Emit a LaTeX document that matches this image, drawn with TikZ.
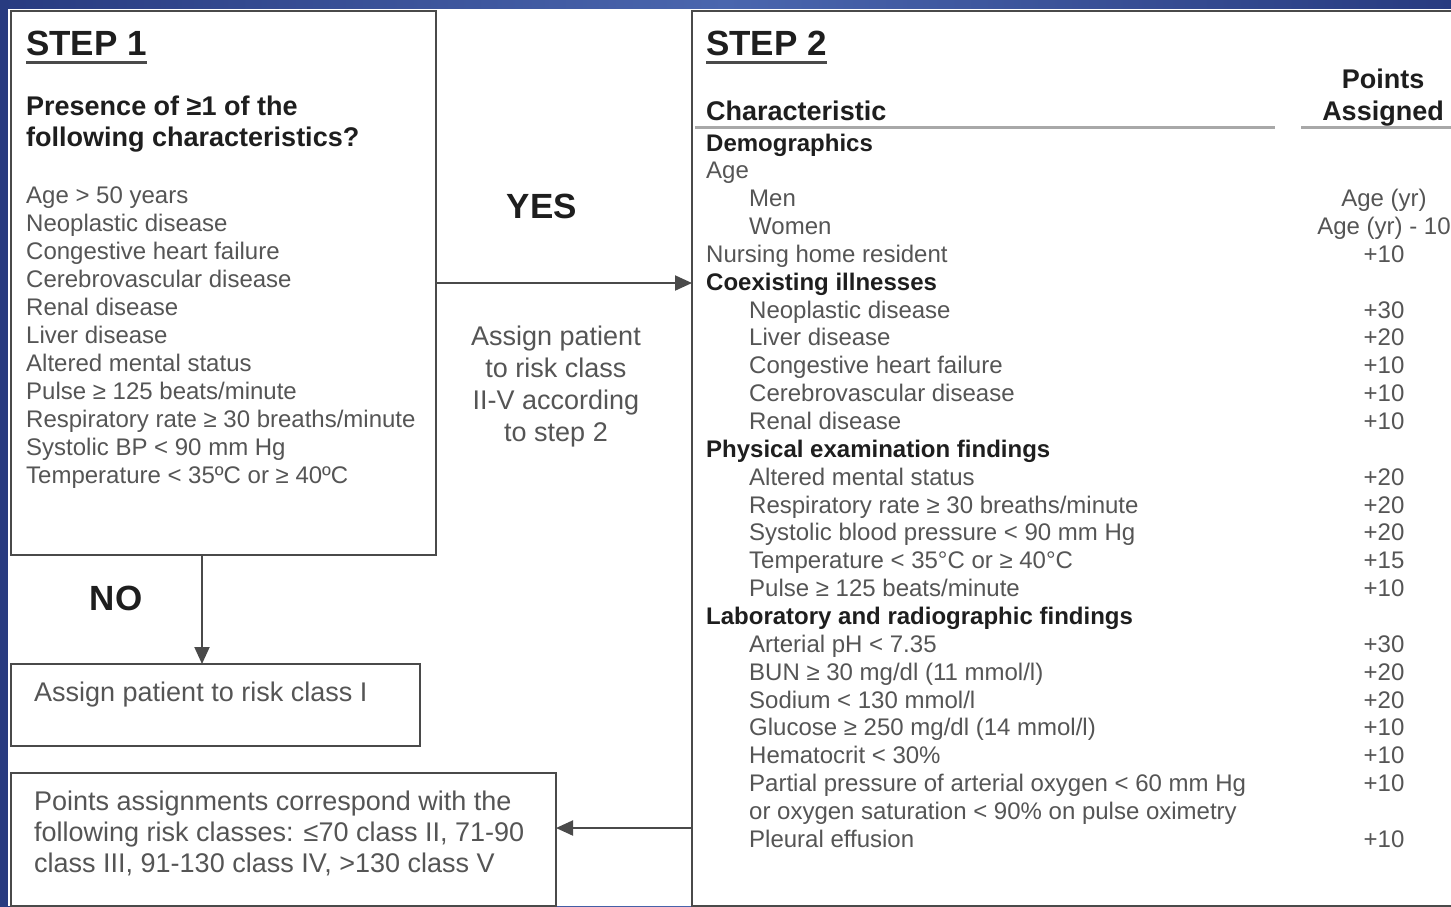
\documentclass[tikz,border=0pt]{standalone}
\usepackage{fontspec}
\setmainfont{Liberation Sans}
\usetikzlibrary{arrows.meta}
\definecolor{bgA}{HTML}{283B80}
\definecolor{bgB}{HTML}{4A66AE}
\definecolor{boxgray}{HTML}{4A4A4A}
\definecolor{txtgray}{HTML}{555555}
\definecolor{txtdark}{HTML}{1E1E1E}
\definecolor{rulegray}{HTML}{A8A8A8}
\newcommand{\trow}[4]{\node[#2] (r#1) at (#3,{151+27.85*#1}) {#4};}
\newcommand{\tpts}[2]{\node[ptxt] (p#1) at (1384,{151+27.85*#1}) {#2};}
\begin{document}
\begin{tikzpicture}[x=1pt,y=-1pt,
  box/.style={draw=boxgray, line width=2pt, fill=white, inner sep=0, outer sep=0, anchor=north west},
  txt/.style={anchor=base west, inner sep=0, text=txtgray, font=\fontsize{24}{28}\selectfont},
  btxt/.style={anchor=base west, inner sep=0, text=txtdark, font=\bfseries\fontsize{24}{28}\selectfont},
  ptxt/.style={anchor=base, inner sep=0, text=txtgray, font=\fontsize{24}{28}\selectfont},
  head/.style={anchor=base west, inner sep=0, text=txtdark, font=\bfseries\fontsize{27}{31}\selectfont},
  bighead/.style={anchor=base west, inner sep=0, text=txtdark, font=\bfseries\fontsize{35}{40}\selectfont},
  midtxt/.style={anchor=base, inner sep=0, text=txtgray, font=\fontsize{27}{32}\selectfont},
  ltxt/.style={anchor=base west, inner sep=0, text=txtgray, font=\fontsize{27}{32}\selectfont},
  arr/.style={draw=boxgray, line width=2pt, -{Triangle[length=17pt,width=15pt]}},
  uline/.style={draw=boxgray, line width=3pt},
  trule/.style={draw=rulegray, line width=3pt}]
\useasboundingbox (0,0) rectangle (1451,906);
\shade[left color=bgA, right color=bgA, middle color=bgB] (0,0) rectangle (1451,906);
\fill[white] (8,9) rectangle (1451,906);

% boxes
\node[box, minimum width=425, minimum height=544] (s1) at (11,11) {};
\node[box, minimum width=780, minimum height=895] (s2) at (692,11) {};
\node[box, minimum width=409, minimum height=82] (b1) at (11,664) {};
\node[box, minimum width=545, minimum height=133] (b2) at (11,773) {};

% step 1
\node[bighead] (t1) at (26,55) {STEP 1};
\draw[uline] ([yshift=-7pt]t1.base west) -- ([yshift=-7pt]t1.base east);
\node[head] (q1) at (26,115) {Presence of ≥1 of the};
\node[head] (q2) at (26,146) {following characteristics?};
\foreach \t [count=\i] in {Age > 50 years, Neoplastic disease, Congestive heart failure,
  Cerebrovascular disease, Renal disease, Liver disease, Altered mental status,
  Pulse ≥ 125 beats/minute, Respiratory rate ≥ 30 breaths/minute, Systolic BP < 90 mm Hg,
  Temperature < 35ºC or ≥ 40ºC}
  \node[txt] (c\i) at (26,{203+28*(\i-1)}) {\t};

% middle
\node[bighead, anchor=base] (yes) at (542,218) {YES};
\node[midtxt] (m1) at (556,345) {Assign patient};
\node[midtxt] (m2) at (556,377) {to risk class};
\node[midtxt] (m3) at (556,409) {II-V according};
\node[midtxt] (m4) at (556,441) {to step 2};
\node[bighead, anchor=base] (no) at (116,610) {NO};

% lower boxes text
\node[ltxt] (b1t) at (34,701) {Assign patient to risk class I};
\node[ltxt] (b2a) at (34,810) {Points assignments correspond with the};
\node[ltxt] (b2b) at (34,841) {following risk classes: ≤70 class II, 71-90};
\node[ltxt] (b2c) at (34,872) {class III, 91-130 class IV, >130 class V};

% step 2
\node[bighead] (t2) at (706,55) {STEP 2};
\draw[uline] ([yshift=-7pt]t2.base west) -- ([yshift=-7pt]t2.base east);
\node[head, anchor=base] (pa) at (1383,88) {Points};
\node[head, anchor=base] (pb) at (1383,120) {Assigned};
\node[head] (ch) at (706,120) {Characteristic};
\coordinate (ruleA) at (695,127);
\coordinate (ruleB) at (1275,127);
\coordinate (ruleC) at (1301,127);
\coordinate (ruleD) at (1451,127);
\draw[trule] (ruleA) -- (ruleB);
\draw[trule] (ruleC) -- (ruleD);

\trow{0}{btxt}{706}{Demographics}
\trow{1}{txt}{706}{Age}
\trow{2}{txt}{749}{Men}
\trow{3}{txt}{749}{Women}
\trow{4}{txt}{706}{Nursing home resident}
\trow{5}{btxt}{706}{Coexisting illnesses}
\trow{6}{txt}{749}{Neoplastic disease}
\trow{7}{txt}{749}{Liver disease}
\trow{8}{txt}{749}{Congestive heart failure}
\trow{9}{txt}{749}{Cerebrovascular disease}
\trow{10}{txt}{749}{Renal disease}
\trow{11}{btxt}{706}{Physical examination findings}
\trow{12}{txt}{749}{Altered mental status}
\trow{13}{txt}{749}{Respiratory rate ≥ 30 breaths/minute}
\trow{14}{txt}{749}{Systolic blood pressure < 90 mm Hg}
\trow{15}{txt}{749}{Temperature < 35°C or ≥ 40°C}
\trow{16}{txt}{749}{Pulse ≥ 125 beats/minute}
\trow{17}{btxt}{706}{Laboratory and radiographic findings}
\trow{18}{txt}{749}{Arterial pH < 7.35}
\trow{19}{txt}{749}{BUN ≥ 30 mg/dl (11 mmol/l)}
\trow{20}{txt}{749}{Sodium < 130 mmol/l}
\trow{21}{txt}{749}{Glucose ≥ 250 mg/dl (14 mmol/l)}
\trow{22}{txt}{749}{Hematocrit < 30\%}
\trow{23}{txt}{749}{Partial pressure of arterial oxygen < 60 mm Hg}
\trow{24}{txt}{749}{or oxygen saturation < 90\% on pulse oximetry}
\trow{25}{txt}{749}{Pleural effusion}

\tpts{2}{Age (yr)}
\tpts{3}{Age (yr) - 10}
\tpts{4}{+10}
\tpts{6}{+30}
\tpts{7}{+20}
\tpts{8}{+10}
\tpts{9}{+10}
\tpts{10}{+10}
\tpts{12}{+20}
\tpts{13}{+20}
\tpts{14}{+20}
\tpts{15}{+15}
\tpts{16}{+10}
\tpts{18}{+30}
\tpts{19}{+20}
\tpts{20}{+20}
\tpts{21}{+10}
\tpts{22}{+10}
\tpts{23}{+10}
\tpts{25}{+10}

% connectors
\coordinate (noX) at (202,0);
\coordinate (backY) at (0,828);
\draw[arr] (s1.east) -- (s1.east -| s2.west);
\draw[arr] (s1.south -| noX) -- (b1.north -| noX);
\draw[arr] (s2.west |- backY) -- (b2.east |- backY);
\end{tikzpicture}
\end{document}
